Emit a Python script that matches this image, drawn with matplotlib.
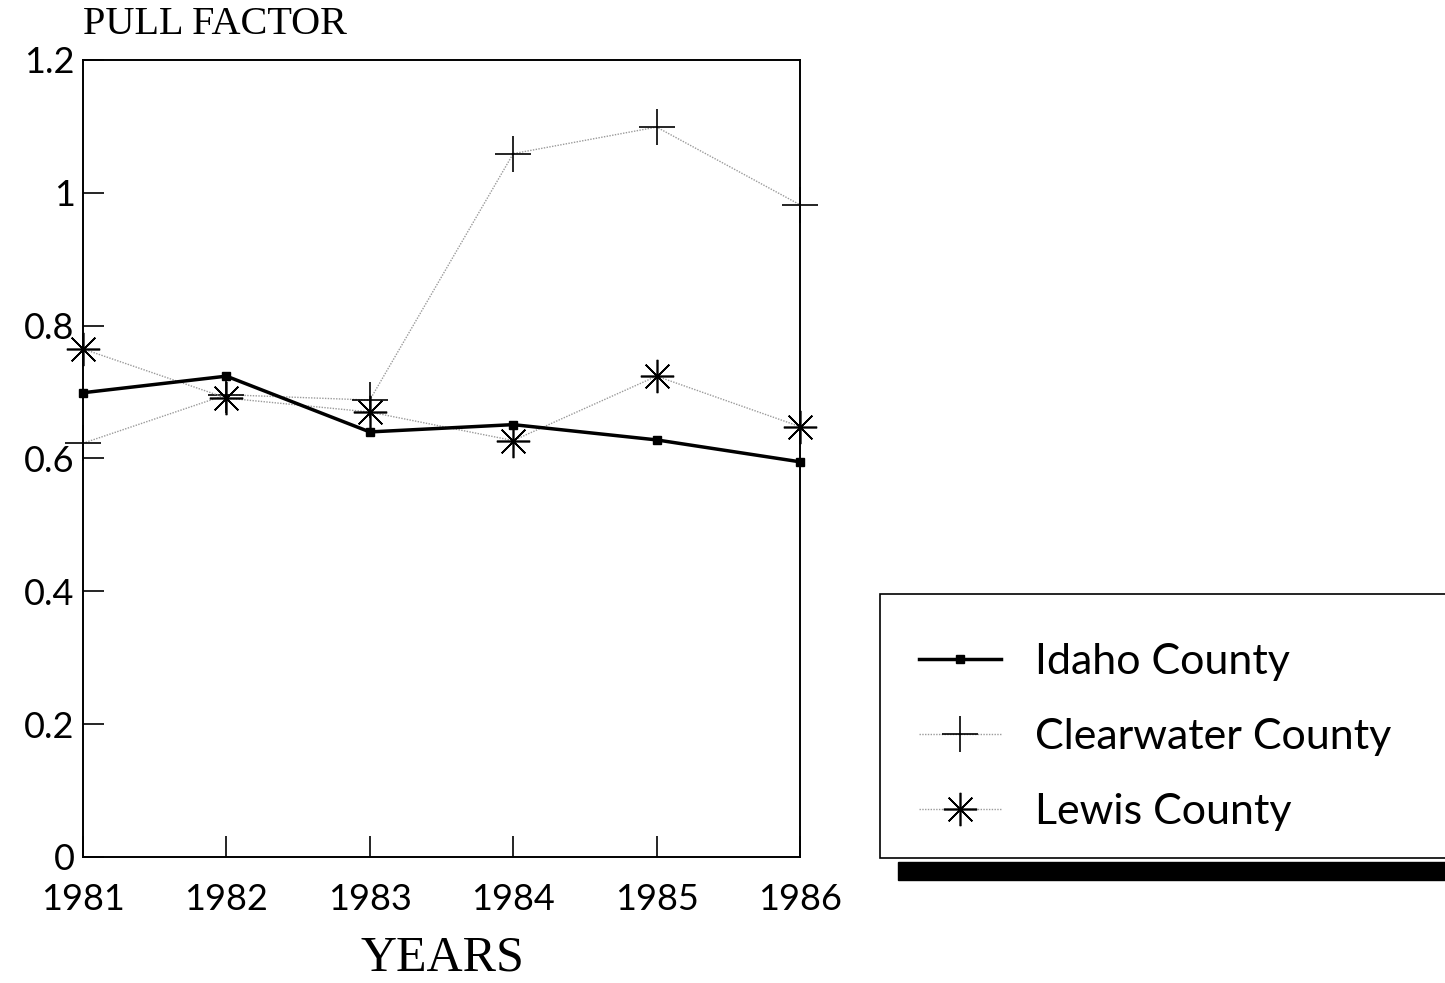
import matplotlib.pyplot as plt
from matplotlib.patches import Rectangle
from matplotlib.lines import Line2D

years = [1981, 1982, 1983, 1984, 1985, 1986]
idaho = [0.699, 0.724, 0.640, 0.651, 0.628, 0.595]
clearwater = [0.623, 0.696, 0.688, 1.059, 1.099, 0.982]
lewis = [0.765, 0.691, 0.670, 0.627, 0.724, 0.648]
series_names = ["Idaho County", "Clearwater County", "Lewis County"]
y_ticks = [0, 0.2, 0.4, 0.6, 0.8, 1.0, 1.2]
y_tick_labels = ["0", "0.2", "0.4", "0.6", "0.8", "1", "1.2"]

sans = "Lato"
serif = "Liberation Serif"

fig = plt.figure(figsize=(14.45, 9.83), dpi=100)
ax = fig.add_axes([83 / 1445, 126 / 983, 717 / 1445, 797 / 983])

gray = "#9a9a9a"
ax.plot(years, idaho, color="black", lw=2.5, marker="s", ms=6,
        clip_on=False, zorder=4)
ax.plot(years, clearwater, color=gray, lw=1, ls=(0, (1, 1)), marker="+",
        ms=26, mew=1.2, mec="black", clip_on=False, zorder=3)
ax.plot(years, lewis, color=gray, lw=1, ls=(0, (1, 1)), marker=(8, 2, 0),
        ms=24, mew=1.2, mec="black", clip_on=False, zorder=3)

ax.set_xlim(1981, 1986)
ax.set_ylim(0, 1.2)
ax.set_xticks(years)
ax.set_xticklabels([str(y) for y in years], family=sans, fontsize=26)
ax.set_yticks(y_ticks)
ax.set_yticklabels(y_tick_labels, family=sans, fontsize=26)
ax.tick_params(axis="x", direction="in", length=15, width=1.2, pad=19)
ax.tick_params(axis="y", direction="in", length=15, width=1.2, pad=6)
for s in ax.spines.values():
    s.set_linewidth(1.4)

fig.text(83 / 1445, 1 - 24 / 983, "PULL FACTOR", family=serif, fontsize=29,
         ha="left", va="center")
fig.text(442 / 1445, 1 - 958 / 983, "YEARS", family=serif, fontsize=36,
         ha="center", va="center")

# legend box with shadow
shadow = Rectangle((898 / 1445, 1 - 880 / 983), 600 / 1445, 18 / 983,
                   transform=fig.transFigure, color="black", zorder=1)
fig.patches.append(shadow)
box = Rectangle((880 / 1445, 1 - 858 / 983), 620 / 1445, 264 / 983,
                transform=fig.transFigure, facecolor="white",
                edgecolor="black", lw=1.2, zorder=2)
fig.patches.append(box)

handles = [
    Line2D([], [], color="black", lw=2.5, marker="s", ms=6),
    Line2D([], [], color=gray, lw=1, ls=(0, (1, 1)), marker="+", ms=26,
           mew=1.2, mec="black"),
    Line2D([], [], color=gray, lw=1, ls=(0, (1, 1)), marker=(8, 2, 0), ms=24,
           mew=1.2, mec="black"),
]
leg = fig.legend(handles, series_names, loc="upper left",
                 bbox_to_anchor=(889 / 1445, 1 - 613 / 983), frameon=False,
                 prop={"family": sans, "size": 31},
                 handlelength=1.9, labelspacing=0.86, handletextpad=0.8,
                 borderpad=0.2)
leg.set_zorder(5)

fig.savefig("out.png", dpi=100, facecolor="white")
